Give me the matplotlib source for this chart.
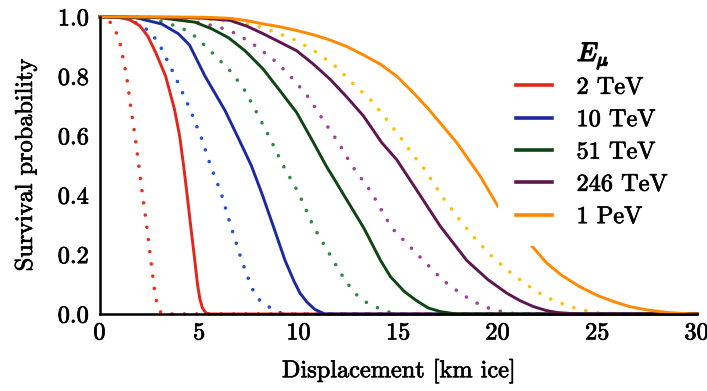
import matplotlib
matplotlib.use("Agg")
import matplotlib.pyplot as plt
import matplotlib.patheffects as pe

plt.rcParams['font.family'] = 'serif'
plt.rcParams['font.serif'] = ['cmr10', 'DejaVu Serif']
plt.rcParams['mathtext.fontset'] = 'cm'
plt.rcParams['axes.formatter.use_mathtext'] = True

# solid curves (legend entries), displacement [km] vs survival probability
red_x = [0, 1.0, 1.5, 2.0, 2.4, 2.8, 3.3, 3.74, 4.0, 4.2, 4.38, 4.55, 4.73, 4.9, 5.02, 5.15, 5.3, 5.45, 30]
red_y = [1.0, 0.997, 0.99, 0.97, 0.935, 0.88, 0.80, 0.69, 0.60, 0.50, 0.40, 0.30, 0.20, 0.10, 0.05, 0.02, 0.005, 0.0, 0.0]

blue_x = [0, 1.8, 3.1, 3.94, 4.5, 5.28, 6.28, 7.0, 7.6, 8.12, 8.71, 9.3, 9.75, 10.05, 10.4, 10.8, 11.3, 30]
blue_y = [1.0, 0.997, 0.976, 0.943, 0.905, 0.80, 0.685, 0.585, 0.50, 0.408, 0.295, 0.18, 0.11, 0.07, 0.04, 0.015, 0.0, 0.0]

green_x = [0, 3.0, 4.77, 5.6, 6.45, 7.3, 8.2, 9.0, 9.88, 10.7, 11.35, 12.3, 13.25, 14.1, 14.6, 15.3, 15.9, 16.5, 17.1, 17.9, 30]
green_y = [1.0, 0.997, 0.982, 0.96, 0.93, 0.885, 0.824, 0.755, 0.678, 0.58, 0.5, 0.395, 0.29, 0.18, 0.125, 0.075, 0.045, 0.02, 0.008, 0.0, 0.0]

purple_x = [0, 4.0, 5.3, 6.53, 7.4, 8.2, 9.0, 9.88, 10.7, 11.56, 12.4, 13.23, 14.15, 14.9, 16.0, 17.1, 18.43, 19.5, 20.44, 21.1, 21.77, 22.4, 22.95, 24.0, 30]
purple_y = [1.0, 0.998, 0.995, 0.988, 0.968, 0.943, 0.916, 0.886, 0.842, 0.79, 0.73, 0.667, 0.577, 0.52, 0.408, 0.295, 0.18, 0.115, 0.07, 0.045, 0.025, 0.012, 0.005, 0.0, 0.0]

orange_x = [0, 4.5, 5.5, 6.53, 7.4, 8.2, 9.0, 9.88, 10.7, 11.56, 12.4, 13.23, 14.1, 14.91, 15.7, 16.5, 17.92, 19.1, 20.0, 21.5, 22.45, 23.2, 24.1, 25.0, 25.8, 26.6, 27.5, 28.5, 29.7, 30]
orange_y = [1.0, 0.999, 0.998, 0.995, 0.987, 0.976, 0.967, 0.954, 0.94, 0.922, 0.9, 0.872, 0.84, 0.80, 0.748, 0.69, 0.577, 0.464, 0.362, 0.244, 0.171, 0.13, 0.092, 0.062, 0.042, 0.025, 0.0135, 0.005, 0.0, 0.0]

# dotted curves
red_dot_x = [0, 0.3, 0.59, 0.8, 1.0, 1.34, 1.56, 1.76, 1.95, 2.14, 2.34, 2.54, 2.72, 2.85, 3.0, 3.15, 30]
red_dot_y = [1.0, 0.997, 0.976, 0.95, 0.915, 0.80, 0.69, 0.60, 0.50, 0.40, 0.30, 0.19, 0.09, 0.04, 0.01, 0.0, 0.0]

blue_dot_x = [0, 1.2, 1.93, 2.43, 2.93, 3.77, 4.52, 5.11, 5.55, 6.08, 6.58, 7.12, 7.45, 7.75, 8.1, 8.46, 9.0, 9.4, 30]
blue_dot_y = [1.0, 0.998, 0.976, 0.954, 0.915, 0.80, 0.69, 0.59, 0.50, 0.408, 0.295, 0.18, 0.12, 0.07, 0.04, 0.025, 0.005, 0.0, 0.0]

green_dot_x = [0, 2.5, 3.77, 4.36, 4.86, 5.7, 6.62, 7.29, 7.87, 8.55, 9.2, 9.97, 10.72, 11.72, 12.3, 12.8, 13.3, 13.8, 14.4, 15.0, 30]
green_dot_y = [1.0, 0.997, 0.97, 0.954, 0.93, 0.875, 0.813, 0.751, 0.678, 0.59, 0.5, 0.408, 0.295, 0.18, 0.115, 0.07, 0.042, 0.025, 0.008, 0.0, 0.0]

purple_dot_x = [0, 3.5, 5.0, 6.0, 6.87, 7.87, 8.88, 9.71, 10.47, 11.14, 11.98, 12.65, 13.65, 14.65, 16.25, 17.2, 18.1, 18.7, 19.26, 20.35, 21.0, 30]
purple_dot_y = [1.0, 0.997, 0.98, 0.965, 0.943, 0.9, 0.847, 0.79, 0.73, 0.66, 0.577, 0.5, 0.408, 0.29, 0.18, 0.115, 0.07, 0.045, 0.025, 0.005, 0.0, 0.0]

yellow_dot_x = [0, 5.0, 7.54, 8.71, 9.88, 10.89, 11.9, 12.73, 13.65, 14.4, 15.16, 15.9, 16.25, 17.25, 18.0, 18.76, 19.6, 20.44, 21.44, 22.36, 23.6, 24.8, 26.0, 30]
yellow_dot_y = [1.0, 0.995, 0.976, 0.951, 0.92, 0.88, 0.83, 0.774, 0.717, 0.655, 0.588, 0.52, 0.492, 0.39, 0.323, 0.26, 0.2, 0.149, 0.098, 0.058, 0.025, 0.005, 0.0, 0.0]

labels = ["2 TeV", "10 TeV", "51 TeV", "246 TeV", "1 PeV"]

fs = 17.5
heavy = [pe.withStroke(linewidth=0.5, foreground='black')]

fig = plt.figure(figsize=(7.07, 3.91), dpi=100)
ax = fig.add_axes([0.1414, 0.197, 0.8446, 0.760])

dot = (0, (0.01, 3.4))
dotted = [
    (red_dot_x, red_dot_y, '#e8301c'),
    (blue_dot_x, blue_dot_y, '#2150d8'),
    (green_dot_x, green_dot_y, '#2d8a3e'),
    (purple_dot_x, purple_dot_y, '#a23d9c'),
    (yellow_dot_x, yellow_dot_y, '#ffbf00'),
]
for x, y, c in dotted:
    ax.plot(x, y, color=c, lw=2.6, linestyle=dot, dash_capstyle='round', clip_on=False)

solid = [
    (red_x, red_y, '#e3261b'),
    (blue_x, blue_y, '#1b2a9c'),
    (green_x, green_y, '#0f4514'),
    (purple_x, purple_y, '#5e1650'),
    (orange_x, orange_y, '#ff8a00'),
]
handles = []
for x, y, c in solid:
    h, = ax.plot(x, y, color=c, lw=2.1, clip_on=False)
    handles.append(h)

ax.set_xlim(0, 30)
ax.set_ylim(0, 1)
ax.set_xticks([0, 5, 10, 15, 20, 25, 30])
ax.set_yticks([0.0, 0.2, 0.4, 0.6, 0.8, 1.0])
ax.set_yticklabels(["0.0", "0.2", "0.4", "0.6", "0.8", "1.0"])
ax.tick_params(length=0, labelsize=fs)
ax.tick_params(axis='y', pad=8)
ax.tick_params(axis='x', pad=6)
for s in ['top', 'right']:
    ax.spines[s].set_visible(False)
for s in ['left', 'bottom']:
    ax.spines[s].set_linewidth(1.8)
    ax.spines[s].set_zorder(5)

ax.set_xlabel("Displacement [km ice]", fontsize=fs, labelpad=10)
ax.set_ylabel("Survival probability", fontsize=fs, labelpad=15)

leg = ax.legend(handles, labels, loc='lower left', bbox_to_anchor=(0.667, 0.23),
                borderaxespad=0, borderpad=0.72, frameon=True, fancybox=False,
                facecolor='white', edgecolor='none', framealpha=1,
                handlelength=1.5, handletextpad=1.0, labelspacing=0.42, fontsize=fs)
leg.set_zorder(4)
for h in leg.legend_handles:
    h.set_linewidth(2.6)
title = ax.text(0.799, 0.87, r'$E_\mu$', transform=ax.transAxes,
                fontsize=19, ha='left', va='center', zorder=6)
title.set_path_effects([pe.withStroke(linewidth=1.1, foreground='black')])

for t in ax.get_xticklabels() + ax.get_yticklabels() + leg.get_texts():
    t.set_path_effects(heavy)
ax.xaxis.label.set_path_effects(heavy)
ax.yaxis.label.set_path_effects(heavy)

fig.savefig("out.png", dpi=100)
